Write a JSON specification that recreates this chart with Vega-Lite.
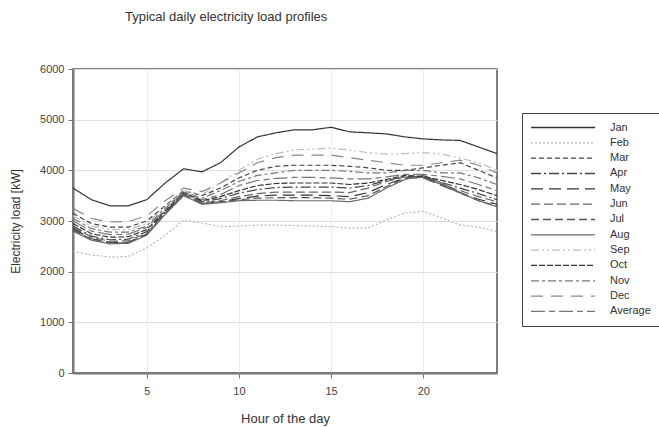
{
  "$schema": "https://vega.github.io/schema/vega-lite/v6.json",
  "width": 424,
  "height": 304,
  "autosize": {"type": "none"},
  "padding": {"left": 73, "top": 69, "right": 162, "bottom": 54},
  "background": "white",
  "title": {
    "text": "Typical daily electricity load profiles",
    "anchor": "start",
    "frame": "group",
    "dx": 52,
    "offset": 39,
    "fontSize": 13,
    "fontWeight": "normal",
    "font": "Liberation Sans",
    "color": "#333333"
  },
  "data": {
    "values": [
      {"hour": 1, "Jan": 3650, "Feb": 2400, "Mar": 3150, "Apr": 2900, "May": 2850, "Jun": 2880, "Jul": 2820, "Aug": 2800, "Sep": 3100, "Oct": 2950, "Nov": 3050, "Dec": 3250, "Average": 3000},
      {"hour": 2, "Jan": 3420, "Feb": 2330, "Mar": 2950, "Apr": 2700, "May": 2650, "Jun": 2680, "Jul": 2640, "Aug": 2620, "Sep": 2900, "Oct": 2750, "Nov": 2850, "Dec": 3050, "Average": 2800},
      {"hour": 3, "Jan": 3300, "Feb": 2290, "Mar": 2880, "Apr": 2630, "May": 2580, "Jun": 2600, "Jul": 2570, "Aug": 2550, "Sep": 2830, "Oct": 2680, "Nov": 2780, "Dec": 2980, "Average": 2730},
      {"hour": 4, "Jan": 3300, "Feb": 2300, "Mar": 2880, "Apr": 2640, "May": 2580, "Jun": 2610, "Jul": 2570, "Aug": 2560, "Sep": 2830, "Oct": 2690, "Nov": 2780, "Dec": 2990, "Average": 2740},
      {"hour": 5, "Jan": 3420, "Feb": 2470, "Mar": 3000, "Apr": 2790, "May": 2740, "Jun": 2760, "Jul": 2730, "Aug": 2720, "Sep": 2950, "Oct": 2830, "Nov": 2900, "Dec": 3100, "Average": 2870},
      {"hour": 6, "Jan": 3750, "Feb": 2720, "Mar": 3300, "Apr": 3180, "May": 3150, "Jun": 3160, "Jul": 3140, "Aug": 3130, "Sep": 3280, "Oct": 3200, "Nov": 3250, "Dec": 3400, "Average": 3220},
      {"hour": 7, "Jan": 4030, "Feb": 3020, "Mar": 3600, "Apr": 3550, "May": 3520, "Jun": 3530, "Jul": 3510, "Aug": 3500, "Sep": 3600, "Oct": 3560, "Nov": 3580, "Dec": 3650, "Average": 3570},
      {"hour": 8, "Jan": 3970, "Feb": 2960, "Mar": 3500, "Apr": 3380, "May": 3350, "Jun": 3360, "Jul": 3340, "Aug": 3330, "Sep": 3520, "Oct": 3400, "Nov": 3450, "Dec": 3580, "Average": 3420},
      {"hour": 9, "Jan": 4150, "Feb": 2890, "Mar": 3650, "Apr": 3440, "May": 3380, "Jun": 3400, "Jul": 3370, "Aug": 3360, "Sep": 3750, "Oct": 3480, "Nov": 3600, "Dec": 3750, "Average": 3520},
      {"hour": 10, "Jan": 4460, "Feb": 2900, "Mar": 3850, "Apr": 3550, "May": 3440, "Jun": 3480, "Jul": 3420, "Aug": 3400, "Sep": 4000, "Oct": 3600, "Nov": 3780, "Dec": 3950, "Average": 3700},
      {"hour": 11, "Jan": 4660, "Feb": 2920, "Mar": 4000, "Apr": 3620, "May": 3490, "Jun": 3540, "Jul": 3450, "Aug": 3410, "Sep": 4220, "Oct": 3700, "Nov": 3900, "Dec": 4150, "Average": 3800},
      {"hour": 12, "Jan": 4740, "Feb": 2920, "Mar": 4080, "Apr": 3660, "May": 3510, "Jun": 3570, "Jul": 3460, "Aug": 3410, "Sep": 4330, "Oct": 3740, "Nov": 3950, "Dec": 4250, "Average": 3840},
      {"hour": 13, "Jan": 4800, "Feb": 2910, "Mar": 4100, "Apr": 3670, "May": 3510, "Jun": 3570, "Jul": 3460, "Aug": 3400, "Sep": 4400, "Oct": 3750, "Nov": 4000, "Dec": 4300, "Average": 3860},
      {"hour": 14, "Jan": 4800, "Feb": 2900, "Mar": 4100, "Apr": 3670, "May": 3510, "Jun": 3570, "Jul": 3460, "Aug": 3400, "Sep": 4420, "Oct": 3750, "Nov": 4000, "Dec": 4300, "Average": 3860},
      {"hour": 15, "Jan": 4850, "Feb": 2890, "Mar": 4100, "Apr": 3670, "May": 3500, "Jun": 3570, "Jul": 3450, "Aug": 3400, "Sep": 4440, "Oct": 3750, "Nov": 4000, "Dec": 4300, "Average": 3850},
      {"hour": 16, "Jan": 4760, "Feb": 2860, "Mar": 4080, "Apr": 3650, "May": 3480, "Jun": 3560, "Jul": 3430, "Aug": 3380, "Sep": 4400, "Oct": 3720, "Nov": 3980, "Dec": 4250, "Average": 3830},
      {"hour": 17, "Jan": 4740, "Feb": 2860, "Mar": 4050, "Apr": 3700, "May": 3560, "Jun": 3650, "Jul": 3500, "Aug": 3450, "Sep": 4350, "Oct": 3750, "Nov": 3950, "Dec": 4200, "Average": 3830},
      {"hour": 18, "Jan": 4720, "Feb": 3020, "Mar": 4000, "Apr": 3800, "May": 3720, "Jun": 3780, "Jul": 3680, "Aug": 3650, "Sep": 4320, "Oct": 3820, "Nov": 3950, "Dec": 4150, "Average": 3870},
      {"hour": 19, "Jan": 4660, "Feb": 3160, "Mar": 4000, "Apr": 3880, "May": 3850, "Jun": 3870, "Jul": 3840, "Aug": 3820, "Sep": 4330, "Oct": 3900, "Nov": 4000, "Dec": 4100, "Average": 3920},
      {"hour": 20, "Jan": 4620, "Feb": 3190, "Mar": 4050, "Apr": 3870, "May": 3850, "Jun": 3850, "Jul": 3870, "Aug": 3900, "Sep": 4350, "Oct": 3880, "Nov": 4000, "Dec": 4100, "Average": 3920},
      {"hour": 21, "Jan": 4600, "Feb": 3060, "Mar": 4100, "Apr": 3760, "May": 3700, "Jun": 3720, "Jul": 3720, "Aug": 3750, "Sep": 4320, "Oct": 3800, "Nov": 3950, "Dec": 4150, "Average": 3880},
      {"hour": 22, "Jan": 4590, "Feb": 2920, "Mar": 4150, "Apr": 3650, "May": 3560, "Jun": 3600, "Jul": 3550, "Aug": 3560, "Sep": 4240, "Oct": 3720, "Nov": 3950, "Dec": 4200, "Average": 3830},
      {"hour": 23, "Jan": 4460, "Feb": 2880, "Mar": 4000, "Apr": 3540, "May": 3430, "Jun": 3480, "Jul": 3400, "Aug": 3400, "Sep": 4150, "Oct": 3620, "Nov": 3850, "Dec": 4100, "Average": 3720},
      {"hour": 24, "Jan": 4330, "Feb": 2790, "Mar": 3850, "Apr": 3420, "May": 3330, "Jun": 3380, "Jul": 3300, "Aug": 3280, "Sep": 4000, "Oct": 3500, "Nov": 3720, "Dec": 3950, "Average": 3600}
    ]
  },
  "transform": [
    {"fold": ["Jan", "Feb", "Mar", "Apr", "May", "Jun", "Jul", "Aug", "Sep", "Oct", "Nov", "Dec", "Average"], "as": ["month", "load"]}
  ],
  "mark": {"type": "line", "strokeWidth": 1.2},
  "encoding": {
    "x": {
      "field": "hour",
      "type": "quantitative",
      "scale": {"domain": [1, 24], "nice": false, "zero": false},
      "axis": {"values": [5, 10, 15, 20], "format": "d", "title": "Hour of the day", "labelPadding": 7, "titlePadding": 16, "titleFontSize": 13, "gridColor": "#eeeeee"}
    },
    "y": {
      "field": "load",
      "type": "quantitative",
      "scale": {"domain": [0, 6000], "nice": false},
      "axis": {"values": [0, 1000, 2000, 3000, 4000, 5000, 6000], "format": "d", "title": "Electricity load [kW]", "labelPadding": 4, "titlePadding": 17, "gridColor": "#dddddd"}
    },
    "color": {
      "field": "month",
      "type": "nominal",
      "scale": {
        "domain": ["Jan", "Feb", "Mar", "Apr", "May", "Jun", "Jul", "Aug", "Sep", "Oct", "Nov", "Dec", "Average"],
        "range": ["#333333", "#b8b8b8", "#444444", "#444444", "#333333", "#666666", "#555555", "#6a6a6a", "#bdbdbd", "#333333", "#777777", "#888888", "#777777"]
      },
      "legend": {"orient": "none", "legendX": 449, "legendY": 44, "direction": "vertical", "columns": 1}
    },
    "strokeDash": {
      "field": "month",
      "type": "nominal",
      "scale": {
        "domain": ["Jan", "Feb", "Mar", "Apr", "May", "Jun", "Jul", "Aug", "Sep", "Oct", "Nov", "Dec", "Average"],
        "range": [[1, 0], [2, 2], [5, 3], [10, 3, 2, 3], [12, 6], [9, 4], [8, 4], [1, 0], [8, 3, 2, 3, 2, 3], [6, 2], [8, 3, 3, 3], [12, 8], [14, 4, 6, 4]]
      },
      "legend": {"orient": "none", "legendX": 449, "legendY": 44, "direction": "vertical", "columns": 1}
    }
  },
  "config": {
    "font": "Liberation Sans",
    "view": {"stroke": "#555555", "strokeWidth": 1.5},
    "axis": {
      "labelFont": "Liberation Sans",
      "labelFontSize": 11,
      "labelColor": "#444444",
      "titleFont": "Liberation Sans",
      "titleFontSize": 12,
      "titleFontWeight": "normal",
      "titleColor": "#333333",
      "domainColor": "#777777",
      "domainWidth": 2,
      "tickColor": "#777777",
      "tickSize": 5,
      "gridWidth": 1
    },
    "legend": {
      "title": null,
      "symbolType": "stroke",
      "symbolSize": 4096,
      "symbolStrokeWidth": 1.3,
      "clipHeight": 13,
      "rowPadding": 2.33,
      "padding": 8,
      "labelOffset": 14,
      "labelFont": "Liberation Sans",
      "labelFontSize": 11,
      "labelColor": "#333333",
      "strokeColor": "#444444",
      "fillColor": "white"
    }
  }
}
